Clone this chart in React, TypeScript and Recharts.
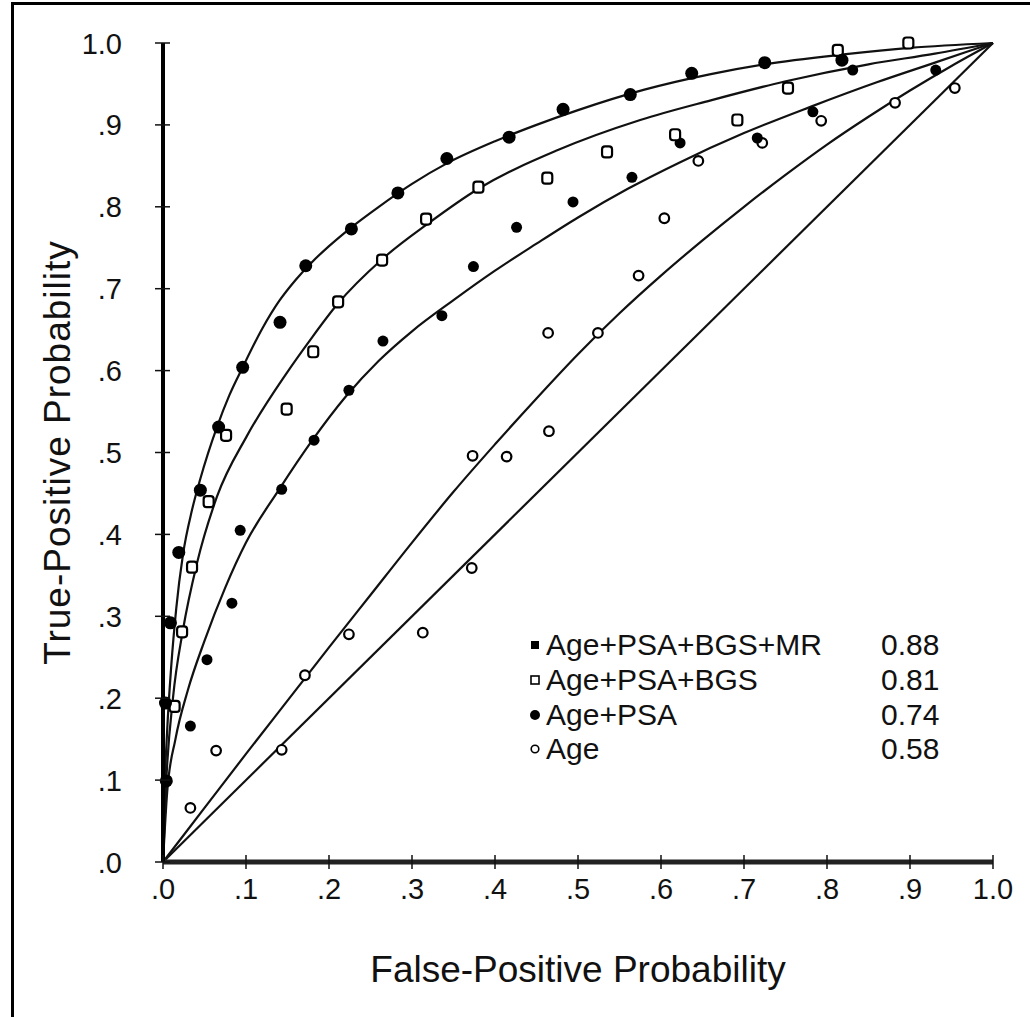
import React from 'react';
import { ComposedChart, Line, Scatter, XAxis, YAxis } from 'recharts';

// ---------- data ----------
const xTicks = [0, 0.1, 0.2, 0.3, 0.4, 0.5, 0.6, 0.7, 0.8, 0.9, 1.0];
const xTickLabels = ['.0', '.1', '.2', '.3', '.4', '.5', '.6', '.7', '.8', '.9', '1.0'];
const yTicks = [0, 0.1, 0.2, 0.3, 0.4, 0.5, 0.6, 0.7, 0.8, 0.9, 1.0];
const yTickLabels = ['.0', '.1', '.2', '.3', '.4', '.5', '.6', '.7', '.8', '.9', '1.0'];

const seriesNames = ['Age+PSA+BGS+MR', 'Age+PSA+BGS', 'Age+PSA', 'Age'];
const aucValues = ['0.88', '0.81', '0.74', '0.58'];

// fitted ROC curves
const curveMR = [[0, 0], [0.002, 0.09], [0.005, 0.16], [0.01, 0.24], [0.016, 0.31], [0.024, 0.375], [0.035, 0.43], [0.045, 0.468], [0.065, 0.531], [0.08, 0.57], [0.096, 0.604], [0.12, 0.652], [0.14, 0.685], [0.16, 0.711], [0.18, 0.733], [0.2, 0.752], [0.227, 0.775], [0.26, 0.8], [0.3, 0.828], [0.342, 0.853], [0.4, 0.88], [0.45, 0.9], [0.5, 0.918], [0.58, 0.943], [0.66, 0.962], [0.725, 0.974], [0.82, 0.986], [0.9, 0.994], [1, 1]];
const curveBGS = [[0, 0], [0.004, 0.1], [0.012, 0.2], [0.024, 0.283], [0.041, 0.365], [0.065, 0.446], [0.101, 0.52], [0.149, 0.597], [0.177, 0.637], [0.21, 0.681], [0.264, 0.736], [0.32, 0.78], [0.38, 0.822], [0.475, 0.869], [0.575, 0.906], [0.66, 0.93], [0.749, 0.953], [0.85, 0.974], [0.93, 0.987], [1, 1]];
const curvePSA = [[0, 0], [0.005, 0.085], [0.015, 0.15], [0.03, 0.21], [0.05, 0.27], [0.075, 0.335], [0.1, 0.39], [0.14, 0.455], [0.18, 0.515], [0.22, 0.568], [0.26, 0.612], [0.3, 0.648], [0.35, 0.686], [0.4, 0.722], [0.45, 0.755], [0.5, 0.787], [0.56, 0.822], [0.62, 0.853], [0.7, 0.89], [0.78, 0.922], [0.86, 0.952], [0.93, 0.976], [1, 1]];
const curveAge = [[0, 0], [0.05, 0.066], [0.1, 0.132], [0.15, 0.197], [0.2, 0.262], [0.25, 0.326], [0.3, 0.39], [0.35, 0.452], [0.4, 0.51], [0.45, 0.566], [0.5, 0.62], [0.55, 0.67], [0.6, 0.716], [0.65, 0.759], [0.7, 0.8], [0.75, 0.839], [0.8, 0.876], [0.85, 0.91], [0.9, 0.942], [0.95, 0.972], [1, 1]];
const chanceLine = [[0, 0], [1, 1]];

// observed operating points
const pointsMR = [[0.004, 0.099], [0.003, 0.194], [0.009, 0.292], [0.019, 0.378], [0.045, 0.454], [0.067, 0.531], [0.096, 0.604], [0.141, 0.659], [0.172, 0.728], [0.227, 0.773], [0.283, 0.817], [0.342, 0.859], [0.417, 0.885], [0.482, 0.919], [0.563, 0.937], [0.637, 0.963], [0.725, 0.976], [0.818, 0.979]];
const pointsBGS = [[0.014, 0.19], [0.023, 0.281], [0.035, 0.36], [0.055, 0.44], [0.076, 0.521], [0.149, 0.553], [0.181, 0.623], [0.211, 0.684], [0.264, 0.735], [0.317, 0.785], [0.38, 0.824], [0.463, 0.835], [0.535, 0.867], [0.617, 0.888], [0.692, 0.906], [0.753, 0.945], [0.813, 0.991], [0.898, 1.0]];
const pointsPSA = [[0.033, 0.166], [0.053, 0.247], [0.083, 0.316], [0.093, 0.405], [0.143, 0.455], [0.182, 0.515], [0.224, 0.576], [0.265, 0.636], [0.336, 0.667], [0.374, 0.727], [0.426, 0.775], [0.494, 0.806], [0.565, 0.836], [0.623, 0.878], [0.716, 0.884], [0.783, 0.916], [0.831, 0.967], [0.931, 0.967]];
const pointsAge = [[0.033, 0.066], [0.064, 0.136], [0.143, 0.137], [0.171, 0.228], [0.224, 0.278], [0.313, 0.28], [0.372, 0.359], [0.373, 0.496], [0.414, 0.495], [0.465, 0.526], [0.464, 0.646], [0.524, 0.646], [0.573, 0.716], [0.604, 0.786], [0.645, 0.856], [0.722, 0.878], [0.793, 0.905], [0.882, 0.927], [0.954, 0.945]];

const toXY = (arr: number[][]) => arr.map(([x, y]) => ({ x, y }));

// ---------- styles ----------
const FONT = '"Liberation Sans", Arial, Helvetica, sans-serif';
const INK = '#111';
const TS = 6; // tick size
const TM = 4; // tick margin

const labelFor = (ticks: number[], labels: string[], v: number) => {
  const i = ticks.findIndex((t) => Math.abs(t - v) < 1e-9);
  return i >= 0 ? labels[i] : '';
};

const BottomTick = (p: any) => {
  const axisY = p.y - TS - TM;
  return (
    <g>
      <line x1={p.x} x2={p.x} y1={axisY - 7} y2={axisY + 7} stroke={INK} strokeWidth={1.5} />
      <text x={p.x} y={axisY + 37} textAnchor="middle" fontSize={29} fill={INK} fontFamily={FONT}>
        {labelFor(xTicks, xTickLabels, p.payload.value)}
      </text>
    </g>
  );
};

const LeftTick = (p: any) => {
  const axisX = p.x + TS + TM;
  return (
    <g>
      <line x1={axisX - 8} x2={axisX + 7} y1={p.y} y2={p.y} stroke={INK} strokeWidth={1.5} />
      <text x={axisX - 41} y={p.y} dy={10.5} textAnchor="end" fontSize={29} fill={INK} fontFamily={FONT}>
        {labelFor(yTicks, yTickLabels, p.payload.value)}
      </text>
    </g>
  );
};

const TopTick = (p: any) => {
  const axisY = p.y + TS + TM;
  return <line x1={p.x} x2={p.x} y1={axisY - 6} y2={axisY + 7} stroke={INK} strokeWidth={1.5} />;
};

const RightTick = (p: any) => {
  const axisX = p.x - TS - TM;
  return <line x1={axisX - 8} x2={axisX} y1={p.y} y2={p.y} stroke={INK} strokeWidth={1.5} />;
};

const shapeMR = (p: any) => <circle cx={p.cx} cy={p.cy} r={6.5} fill="#000" />;
const shapeBGS = (p: any) => (
  <rect x={p.cx - 5} y={p.cy - 5.5} width={10} height={11} rx={3} fill="#fff" stroke="#000" strokeWidth={2.2} />
);
const shapePSA = (p: any) => <circle cx={p.cx} cy={p.cy} r={5.5} fill="#000" />;
const shapeAge = (p: any) => <circle cx={p.cx} cy={p.cy} r={4.8} fill="#fff" stroke="#000" strokeWidth={2.2} />;

const LegendOverlay = () => {
  const baselines = [655, 690, 725, 759];
  const markers = [
    (cy: number) => <rect x={531} y={cy - 4} width={8} height={8} fill="#000" />,
    (cy: number) => <rect x={531} y={cy - 4} width={8} height={8} fill="#fff" stroke="#000" strokeWidth={1.6} />,
    (cy: number) => <circle cx={535} cy={cy} r={5} fill="#000" />,
    (cy: number) => <circle cx={535} cy={cy} r={3.8} fill="#fff" stroke="#000" strokeWidth={1.6} />,
  ];
  return (
    <svg width={1030} height={1017} style={{ position: 'absolute', left: 0, top: 0, pointerEvents: 'none' }}>
      {seriesNames.map((name, i) => (
        <g key={name}>
          {markers[i](baselines[i] - 10)}
          <text x={546} y={baselines[i]} fontSize={30} fill={INK} fontFamily={FONT}>{name}</text>
          <text x={881} y={baselines[i]} fontSize={30} fill={INK} fontFamily={FONT}>{aucValues[i]}</text>
        </g>
      ))}
    </svg>
  );
};

export default function App() {
  const lineProps = {
    type: 'monotone' as const,
    dataKey: 'y',
    stroke: INK,
    strokeWidth: 2.2,
    dot: false,
    activeDot: false,
    isAnimationActive: false,
    legendType: 'none' as const,
  };
  return (
    <div style={{ position: 'absolute', left: 0, top: 0, width: 1030, height: 1017, background: '#fff', overflow: 'hidden', fontFamily: FONT }}>
      <div style={{ position: 'absolute', left: 11, top: 2, width: 1030, height: 1030, borderLeft: '3px solid #000', borderTop: '3px solid #000' }} />
      <div style={{ position: 'absolute', left: 0, top: 0 }}>
        <ComposedChart width={1030} height={1017} margin={{ top: 43, right: 37, left: 0, bottom: 0 }}>
          <XAxis
            dataKey="x"
            type="number"
            domain={[0, 1]}
            ticks={xTicks}
            interval={0}
            height={155}
            tickSize={TS}
            tickMargin={TM}
            tickLine={false}
            tick={(p: any) => <BottomTick {...p} />}
            axisLine={{ stroke: '#222', strokeWidth: 5 }}
            label={{ value: 'False-Positive Probability', position: 'insideBottom', offset: 35, fill: INK, fontSize: 37, fontFamily: FONT }}
          />
          <XAxis
            xAxisId="top"
            orientation="top"
            type="number"
            domain={[0, 1]}
            ticks={xTicks}
            interval={0}
            height={0}
            tickSize={TS}
            tickMargin={TM}
            tickLine={false}
            tick={(p: any) => <TopTick {...p} />}
            axisLine={{ stroke: '#000', strokeWidth: 5 }}
          />
          <YAxis
            dataKey="y"
            type="number"
            domain={[0, 1]}
            ticks={yTicks}
            interval={0}
            width={163}
            tickSize={TS}
            tickMargin={TM}
            tickLine={false}
            tick={(p: any) => <LeftTick {...p} />}
            axisLine={{ stroke: '#000', strokeWidth: 4 }}
            label={{ value: 'True-Positive Probability', angle: -90, position: 'insideLeft', offset: 57, fill: INK, fontSize: 37, fontFamily: FONT, style: { textAnchor: 'middle', letterSpacing: 1 } }}
          />
          <YAxis
            yAxisId="right"
            orientation="right"
            type="number"
            domain={[0, 1]}
            ticks={yTicks}
            interval={0}
            width={0}
            tickSize={TS}
            tickMargin={TM}
            tickLine={false}
            tick={(p: any) => <RightTick {...p} />}
            axisLine={{ stroke: '#000', strokeWidth: 2.5 }}
          />
          <Line {...lineProps} data={toXY(chanceLine)} type="linear" name="chance" />
          <Line {...lineProps} data={toXY(curveAge)} name="Age curve" />
          <Line {...lineProps} data={toXY(curvePSA)} name="Age+PSA curve" />
          <Line {...lineProps} data={toXY(curveBGS)} name="Age+PSA+BGS curve" />
          <Line {...lineProps} data={toXY(curveMR)} name="Age+PSA+BGS+MR curve" />
          <Scatter data={toXY(pointsAge)} dataKey="y" name={seriesNames[3]} shape={shapeAge} isAnimationActive={false} />
          <Scatter data={toXY(pointsPSA)} dataKey="y" name={seriesNames[2]} shape={shapePSA} isAnimationActive={false} />
          <Scatter data={toXY(pointsBGS)} dataKey="y" name={seriesNames[1]} shape={shapeBGS} isAnimationActive={false} />
          <Scatter data={toXY(pointsMR)} dataKey="y" name={seriesNames[0]} shape={shapeMR} isAnimationActive={false} />
        </ComposedChart>
      </div>
      <LegendOverlay />
    </div>
  );
}
